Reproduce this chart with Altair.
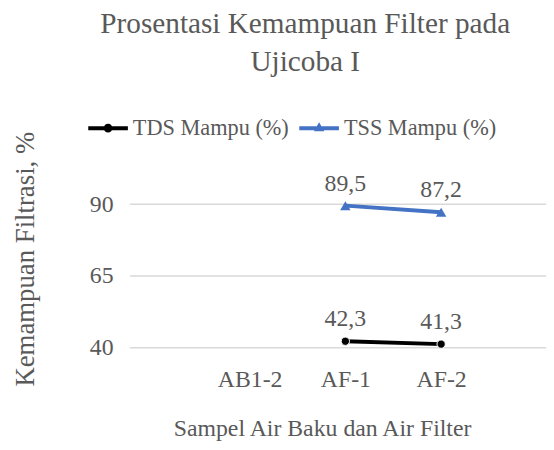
import altair as alt
import pandas as pd

samples = ["AB1-2", "AF-1", "AF-2"]
series_names = ["TDS Mampu (%)", "TSS Mampu (%)"]
tds_samples = ["AF-1", "AF-2"]
tds_values = [42.3, 41.3]
tss_samples = ["AF-1", "AF-2"]
tss_values = [89.5, 87.2]
y_ticks = [40, 65, 90]
colors = ["#000000", "#4472C4"]

rows = []
for s, v in zip(tds_samples, tds_values):
    rows.append({"sample": s, "series": series_names[0], "value": v})
for s, v in zip(tss_samples, tss_values):
    rows.append({"sample": s, "series": series_names[1], "value": v})
df = pd.DataFrame(rows)
df["label"] = df["value"].map(lambda v: f"{v:.1f}".replace(".", ","))
grid_df = pd.DataFrame({"value": y_ticks})

FONT = "Liberation Serif"
GREY = "#595959"

cscale = alt.Scale(domain=series_names, range=colors)
legend_paths = [
    "M-1,-0.1L1,-0.1L1,0.1L-1,0.1Z M-0.22,0A0.22,0.22 0 1,1 0.22,0A0.22,0.22 0 1,1 -0.22,0Z",
    "M-1,-0.1L1,-0.1L1,0.1L-1,0.1Z M0,-0.3L0.26,0.16L-0.26,0.16Z",
]
sscale = alt.Scale(domain=series_names, range=legend_paths)

leg = alt.Legend(
    title=None, orient="none", legendX=-42, legendY=-97, direction="horizontal",
    symbolSize=1600, symbolStrokeWidth=0, symbolOpacity=1,
    labelFont=FONT, labelFontSize=22.5, labelColor=GREY, labelOffset=5,
    columnPadding=10, padding=0,
)

yscale = alt.Scale(domain=[40, 90], nice=False, zero=False)
y_axis = alt.Axis(title="Kemampuan Filtrasi, %", values=y_ticks, domain=False,
                  ticks=False, grid=False,
                  labelPadding=17, titleX=-105, titleY=55,
                  titleAngle=-90, titleBaseline="middle", titleAlign="center")

x_enc = alt.X("sample:N", scale=alt.Scale(domain=samples, range=[72.5, 362.5]),
              axis=alt.Axis(title="Sampel Air Baku dan Air Filter", labelAngle=0,
                            domain=False, ticks=False, grid=False, labelPadding=20,
                            titleX=194, titleY=81, titleBaseline="middle"))
y_enc = alt.Y("value:Q", scale=yscale, axis=y_axis)

col = alt.Color("series:N", scale=cscale, legend=leg)

gridlines = alt.Chart(grid_df).mark_rule(color="#d9d9d9", strokeWidth=1.5).encode(
    y=y_enc,
    x=alt.value(0), x2=alt.value("width"),
)

base = alt.Chart(df)

lines = base.mark_line(strokeWidth=4).encode(x=x_enc, y=y_enc, color=col)

tds_pts = base.transform_filter(alt.datum.series == series_names[0]).mark_point(
    shape="circle", filled=True, size=70, stroke="white", strokeWidth=1, opacity=1
).encode(x=x_enc, y=y_enc, color=col)

tss_pts = base.transform_filter(alt.datum.series == series_names[1]).mark_point(
    shape="triangle-up", filled=True, size=110, opacity=1
).encode(x=x_enc, y=y_enc, color=col)

legend_layer = base.mark_point(filled=True, opacity=0).encode(
    x=x_enc, y=y_enc,
    color=col,
    shape=alt.Shape("series:N", scale=sscale, legend=leg),
)

labels = base.mark_text(dy=-22, font=FONT, fontSize=24, color=GREY).encode(
    x=x_enc, y=y_enc, text="label:N")

chart = alt.layer(gridlines, lines, tds_pts, tss_pts, legend_layer, labels).properties(
    width=420, height=145,
    autosize=alt.AutoSizeParams(type="none"),
    padding={"left": 123, "top": 196, "right": 0, "bottom": 93},
    title=alt.Title(text=["Prosentasi Kemampuan Filter pada", "Ujicoba I"],
                    font=FONT, fontSize=29.5, fontWeight="normal", color=GREY,
                    anchor="middle", frame="group", dx=-33, offset=31, lineHeight=38),
).configure_view(stroke=None).configure_axis(
    labelFont=FONT, labelFontSize=24, labelColor=GREY,
    titleFont=FONT, titleFontSize=25, titleColor=GREY, titleFontWeight="normal",
).configure_axisX(titleFontSize=24).configure_axisY(titleFontSize=27)

chart.save("out.html", embed_options={"renderer": "svg", "actions": False})
